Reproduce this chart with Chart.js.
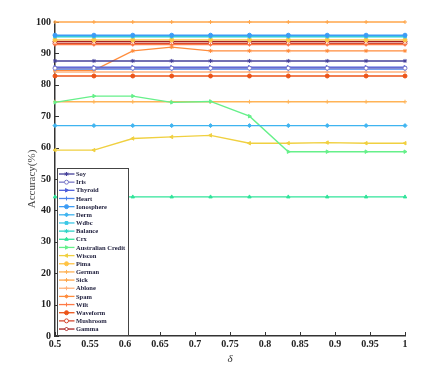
<!DOCTYPE html>
<html>
<head>
<meta charset="utf-8">
<script src="https://cdn.jsdelivr.net/npm/chart.js@4/dist/chart.umd.min.js"></script>
<style>
  html, body { margin: 0; padding: 0; background: #fff; }
  #wrap { width: 431px; height: 370px; position: relative; }
</style>
</head>
<body>
<div id="wrap"><canvas id="c" width="431" height="370"></canvas></div>
<script>
// ---- data ----
const deltas = [0.5, 0.5556, 0.6111, 0.6667, 0.7222, 0.7778, 0.8333, 0.8889, 0.9444, 1.0];
const seriesNames = ["Soy","Iris","Thyroid","Heart","Ionosphere","Derm","Wdbc","Balance","Crx","Australian Credit",
                     "Wiscon","Pima","German","Sick","Ablone","Spam","Wilt","Waveform","Mushroom","Gamma"];
const soy        = [87.6, 87.6, 87.6, 87.6, 87.6, 87.6, 87.6, 87.6, 87.6, 87.6];
const iris       = [85.3, 85.3, 85.3, 85.3, 85.3, 85.3, 85.3, 85.3, 85.3, 85.3];
const thyroid    = [85.6, 85.6, 85.6, 85.6, 85.6, 85.6, 85.6, 85.6, 85.6, 85.6];
const heart      = [85.0, 85.0, 85.0, 85.0, 85.0, 85.0, 85.0, 85.0, 85.0, 85.0];
const ionosphere = [95.8, 95.8, 95.8, 95.8, 95.8, 95.8, 95.8, 95.8, 95.8, 95.8];
const derm       = [67.0, 67.0, 67.0, 67.0, 67.0, 67.0, 67.0, 67.0, 67.0, 67.0];
const wdbc       = [95.5, 95.5, 95.5, 95.5, 95.5, 95.5, 95.5, 95.5, 95.5, 95.5];
const balance    = [95.3, 95.3, 95.3, 95.3, 95.3, 95.3, 95.3, 95.3, 95.3, 95.3];
const crx        = [44.3, 44.3, 44.3, 44.3, 44.3, 44.3, 44.3, 44.3, 44.3, 44.3];
const ausCredit  = [74.4, 76.4, 76.4, 74.4, 74.7, 70.0, 58.7, 58.7, 58.7, 58.7];
const wiscon     = [59.2, 59.2, 62.9, 63.4, 63.9, 61.4, 61.4, 61.6, 61.4, 61.4];
const pima       = [94.3, 94.3, 94.3, 94.3, 94.3, 94.3, 94.3, 94.3, 94.3, 94.3];
const german     = [74.6, 74.6, 74.6, 74.6, 74.6, 74.6, 74.6, 74.6, 74.6, 74.6];
const sick       = [100, 100, 100, 100, 100, 100, 100, 100, 100, 100];
const ablone     = [84.1, 84.1, 84.1, 84.1, 84.1, 84.1, 84.1, 84.1, 84.1, 84.1];
const spam       = [84.6, 84.6, 90.8, 92.0, 90.8, 90.8, 90.8, 90.8, 90.8, 90.8];
const wilt       = [92.8, 92.8, 92.8, 92.8, 92.8, 92.8, 92.8, 92.8, 92.8, 92.8];
const waveform   = [82.8, 82.8, 82.8, 82.8, 82.8, 82.8, 82.8, 82.8, 82.8, 82.8];
const mushroom   = [93.2, 93.2, 93.2, 93.2, 93.2, 93.2, 93.2, 93.2, 93.2, 93.2];
const gamma      = [93.8, 93.8, 93.8, 93.8, 93.8, 93.8, 93.8, 93.8, 93.8, 93.8];
const seriesValues = [soy, iris, thyroid, heart, ionosphere, derm, wdbc, balance, crx, ausCredit,
                      wiscon, pima, german, sick, ablone, spam, wilt, waveform, mushroom, gamma];
const yTicks = [0, 10, 20, 30, 40, 50, 60, 70, 80, 90, 100];
const xTicks = [0.5, 0.55, 0.6, 0.65, 0.7, 0.75, 0.8, 0.85, 0.9, 0.95, 1];

// ---- styles ----
const colors = ["#45409a","#7a78c8","#4f5fdc","#4b82ea","#3c9cf5","#3fb4f0","#3cc8e6","#2fd4c8","#30e49a","#66f08a",
                "#f0d040","#ffc445","#ffb356","#ffa64a","#ffb27c","#ff8c3c","#ff7a45","#ec5418","#d64a32","#a82020"];
const styles = [
  ["star",0,true],["circle",0,false],["triangle",90,true],["cross",0,true],["circle",0,true],
  ["rectRot",0,true],["rect",0,true],["star",0,true],["triangle",0,true],["triangle",90,true],
  ["triangle",-90,true],["circle",0,true],["cross",0,true],["cross",0,true],["cross",0,true],
  ["star",0,true],["cross",0,true],["circle",0,true],["circle",0,false],["rectRot",0,false]
];

const datasets = seriesNames.map((name, i) => ({
  label: name,
  data: deltas.map((d, j) => ({x: d, y: seriesValues[i][j]})),
  borderColor: colors[i],
  backgroundColor: styles[i][2] ? colors[i] : '#ffffff',
  pointBackgroundColor: styles[i][2] ? colors[i] : '#ffffff',
  pointBorderColor: colors[i],
  pointStyle: styles[i][0],
  pointRotation: styles[i][1],
  pointRadius: 2.0,
  pointBorderWidth: 1,
  borderWidth: 1.4,
  tension: 0,
  clip: false
}));

const SERIF = '"Liberation Serif", "Times New Roman", serif';

const inwardTicks = {
  id: 'inwardTicks',
  beforeDatasetsDraw(chart) {
    const {ctx, chartArea: a, scales: {x, y}} = chart;
    ctx.save();
    ctx.strokeStyle = '#333';
    ctx.lineWidth = 1;
    x.ticks.forEach(t => {
      const px = Math.round(x.getPixelForValue(t.value)) + 0.5;
      ctx.beginPath(); ctx.moveTo(px, a.bottom); ctx.lineTo(px, a.bottom - 4); ctx.stroke();
    });
    y.ticks.forEach(t => {
      const py = Math.round(y.getPixelForValue(t.value)) + 0.5;
      ctx.beginPath(); ctx.moveTo(a.left, py); ctx.lineTo(a.left + 4, py); ctx.stroke();
    });
    ctx.restore();
  }
};

function drawMarker(ctx, ds, x, y) {
  const opts = {pointStyle: ds.pointStyle, radius: ds.pointRadius, rotation: ds.pointRotation, borderWidth: 1};
  ctx.fillStyle = ds.pointBackgroundColor;
  ctx.strokeStyle = ds.pointBorderColor;
  ctx.lineWidth = 1;
  if (Chart.helpers && Chart.helpers.drawPoint) {
    Chart.helpers.drawPoint(ctx, opts, x, y);
  } else {
    ctx.beginPath(); ctx.arc(x, y, 2, 0, Math.PI * 2); ctx.fill(); ctx.stroke();
  }
}

const boxLegend = {
  id: 'boxLegend',
  afterDraw(chart) {
    const ctx = chart.ctx;
    const left = 57, top = 168, right = 128, bottom = 335;
    ctx.save();
    ctx.fillStyle = '#ffffff';
    ctx.fillRect(left, top, right - left, bottom - top);
    ctx.strokeStyle = '#444';
    ctx.lineWidth = 1;
    ctx.strokeRect(left + 0.5, top + 0.5, right - left, bottom - top);
    const step = 8.16;
    chart.data.datasets.forEach((ds, i) => {
      const yy = top + 6 + i * step;
      ctx.strokeStyle = ds.borderColor;
      ctx.lineWidth = 1.3;
      ctx.beginPath(); ctx.moveTo(59, yy); ctx.lineTo(74.5, yy); ctx.stroke();
      drawMarker(ctx, ds, 66.5, yy);
      ctx.fillStyle = '#1e1e3c';
      ctx.font = 'bold 6.5px ' + SERIF;
      ctx.textBaseline = 'middle';
      ctx.textAlign = 'left';
      ctx.fillText(ds.label, 76, yy + 0.5);
    });
    ctx.restore();
  }
};

new Chart(document.getElementById('c'), {
  type: 'line',
  data: { datasets },
  options: {
    responsive: false,
    animation: false,
    devicePixelRatio: 1,
    layout: { padding: { top: 22, right: 26, left: 0, bottom: 0 } },
    plugins: { legend: { display: false }, tooltip: { enabled: false } },
    scales: {
      x: {
        type: 'linear',
        min: 0.5, max: 1,
        afterBuildTicks: s => { s.ticks = xTicks.map(v => ({value: v})); },
        afterFit: s => { s.height = 34; },
        ticks: {
          padding: 2,
          color: '#222',
          font: { family: SERIF, size: 10, weight: 'bold' },
          maxRotation: 0,
          autoSkip: false,
          callback: v => String(Number(v.toFixed(2)))
        },
        grid: { display: true, drawOnChartArea: false, drawTicks: false },
        border: { display: true, color: '#333', width: 1.5 },
        title: {
          display: true, text: 'δ', color: '#333',
          font: { family: SERIF, size: 11, style: 'italic' },
          padding: { top: 0, bottom: 4 }
        }
      },
      y: {
        min: 0, max: 100,
        afterBuildTicks: s => { s.ticks = yTicks.map(v => ({value: v})); },
        afterFit: s => { s.width = 55; },
        ticks: {
          padding: 4,
          color: '#222',
          font: { family: SERIF, size: 10, weight: 'bold' }
        },
        grid: { display: true, drawOnChartArea: false, drawTicks: false },
        border: { display: true, color: '#333', width: 1.5 },
        title: {
          display: true, text: 'Accuracy(%)', color: '#444',
          font: { family: SERIF, size: 11 },
          padding: { top: 26, bottom: 0 }
        }
      }
    }
  },
  plugins: [inwardTicks, boxLegend]
});
</script>
</body>
</html>
